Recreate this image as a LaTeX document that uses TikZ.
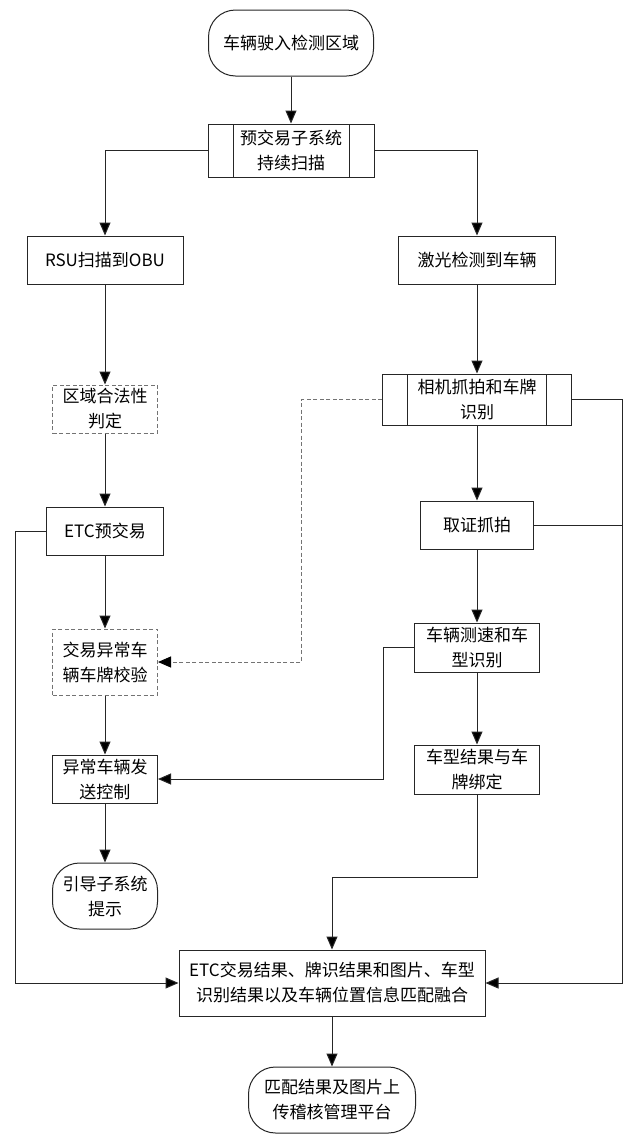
\documentclass[tikz,border=0pt]{standalone}
\usepackage{fontspec}
\setmainfont{Noto Sans CJK SC}
\usetikzlibrary{arrows.meta}
\tikzset{
  base/.style={draw=black!85, line width=1pt, inner sep=0pt, align=center,
    font=\fontsize{17}{25}\selectfont, text=black},
  procbox/.style={base, rectangle},
  dashbox/.style={base, rectangle, draw=black!55, dash pattern=on 4pt off 2.5pt},
  termbox/.style={base, rectangle, rounded corners=27pt},
  predef/.style={base, rectangle,
    path picture={
      \draw[black!85, line width=1pt] ([xshift=25pt]path picture bounding box.north west) -- ([xshift=25pt]path picture bounding box.south west);
      \draw[black!85, line width=1pt] ([xshift=-25pt]path picture bounding box.north east) -- ([xshift=-25pt]path picture bounding box.south east);
    }},
  conn/.style={draw=black!85, line width=1pt},
  arr/.style={conn, -{Triangle[length=13pt,width=11pt,fill=black]}},
  darr/.style={conn, draw=black!55, dash pattern=on 4pt off 2.5pt, -{Triangle[length=13pt,width=11pt,fill=black,color=black]}},
}
\begin{document}
\begin{tikzpicture}[x=1pt,y=-1pt]
\useasboundingbox[fill=white] (0,0) rectangle (640,1144);

\node[termbox, minimum width=165pt, minimum height=66pt] (start) at (291,43) {车辆驶入检测区域};
\node[predef, minimum width=166pt, minimum height=53pt] (pre) at (291,150.5) {预交易子系统\\持续扫描};
\node[procbox, minimum width=156pt, minimum height=48pt] (rsu) at (105,260) {RSU扫描到OBU};
\node[procbox, minimum width=157pt, minimum height=48pt] (laser) at (477,260) {激光检测到车辆};
\node[dashbox, minimum width=105pt, minimum height=48pt] (legal) at (105,409) {区域合法性\\判定};
\node[predef, minimum width=189pt, minimum height=51pt] (cam) at (477,399.5) {相机抓拍和车牌\\识别};
\node[procbox, minimum width=117pt, minimum height=48pt] (etc) at (105,531) {ETC预交易};
\node[procbox, minimum width=113pt, minimum height=48pt] (evid) at (477,525) {取证抓拍};
\node[dashbox, minimum width=105pt, minimum height=66pt] (check) at (105,662) {交易异常车\\辆车牌校验};
\node[procbox, minimum width=125pt, minimum height=49pt] (speed) at (477,647.5) {车辆测速和车\\型识别};
\node[procbox, minimum width=105pt, minimum height=48pt] (send) at (105,779) {异常车辆发\\送控制};
\node[procbox, minimum width=125pt, minimum height=49pt] (bind) at (477,769.5) {车型结果与车\\牌绑定};
\node[termbox, minimum width=105pt, minimum height=66pt] (guide) at (105,896) {引导子系统\\提示};
\node[procbox, minimum width=306pt, minimum height=66pt] (fuse) at (332,983) {ETC交易结果、牌识结果和图片、车型\\识别结果以及车辆位置信息匹配融合};
\node[termbox, minimum width=167pt, minimum height=66pt] (end) at (332,1100) {匹配结果及图片上\\传稽核管理平台};

\coordinate (rr) at (622,0);
\coordinate (lr) at (15,0);
\coordinate (dr) at (301,0);
\coordinate (sr) at (383,0);
\coordinate (jn) at (477,877);

\draw[arr] (start) -- (pre);
\draw[arr] (pre.west) -| (rsu.north);
\draw[arr] (pre.east) -| (laser.north);
\draw[arr] (rsu) -- (legal);
\draw[arr] (legal) -- (etc);
\draw[arr] (etc) -- (check);
\draw[arr] (check) -- (send);
\draw[arr] (send) -- (guide);
\draw[arr] (laser) -- (cam);
\draw[arr] (cam) -- (evid);
\draw[arr] (evid) -- (speed);
\draw[arr] (speed) -- (bind);
\draw[arr] (cam.east) -- (cam.east -| rr) |- (fuse.east);
\draw[conn] (evid.east) -- (evid.east -| rr);
\draw[arr] (etc.west) -- (etc.west -| lr) |- (fuse.west);
\draw[darr] (cam.west) -- (cam.west -| dr) |- (check.east);
\draw[arr] (speed.west) -- (speed.west -| sr) |- (send.east);
\draw[arr] (bind.south) -- (jn) -| (fuse.north);
\draw[arr] (fuse) -- (end);
\end{tikzpicture}
\end{document}
